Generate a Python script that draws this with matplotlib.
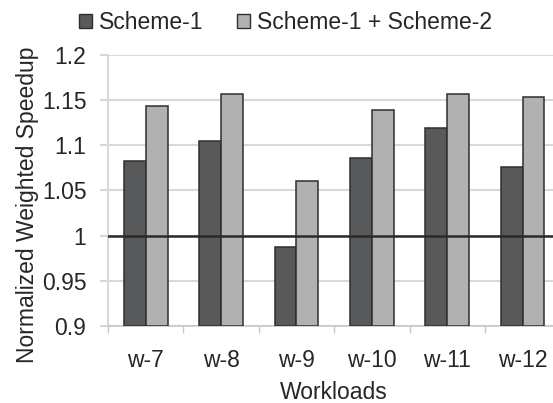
import matplotlib
matplotlib.use("Agg")
import matplotlib.pyplot as plt
import numpy as np
from matplotlib.patches import Patch

workloads = ["w-7", "w-8", "w-9", "w-10", "w-11", "w-12"]
scheme1 = [1.083, 1.105, 0.988, 1.086, 1.119, 1.076]
scheme12 = [1.143, 1.157, 1.060, 1.139, 1.157, 1.153]
series_names = ["Scheme-1", "Scheme-1 + Scheme-2"]
yticks = [0.9, 0.95, 1.0, 1.05, 1.1, 1.15, 1.2]
ytick_labels = ["0.9", "0.95", "1", "1.05", "1.1", "1.15", "1.2"]

plt.rcParams['font.family'] = ['Liberation Sans', 'DejaVu Sans']
FS = 16.5
TXT = '#262626'
DARK = '#58595b'
LIGHT = '#b1b1b1'
EDGE = '#2e2e2e'
GRID = '#d9d9d9'

fig = plt.figure(figsize=(5.53, 4.03), dpi=100)
W, H = 553, 403
ax = fig.add_axes([108 / W, (H - 326.3) / H, 452.3 / W, 271.6 / H])

x = np.arange(len(workloads))
bw = 0.29
ax.bar(x - bw / 2, np.array(scheme1) - 0.9, bw, bottom=0.9, color=DARK,
       edgecolor=EDGE, linewidth=1.1, zorder=3)
ax.bar(x + bw / 2, np.array(scheme12) - 0.9, bw, bottom=0.9, color=LIGHT,
       edgecolor=EDGE, linewidth=1.1, zorder=3)

ax.axhline(1.0, color='#2a2a2a', linewidth=1.8, zorder=4)

ax.set_xlim(-0.5, len(workloads) - 0.5)
ax.set_ylim(0.9, 1.2)
ax.set_yticks(yticks)
ax.set_yticklabels(ytick_labels)
ax.yaxis.grid(True, color=GRID, linewidth=1.5, zorder=0)
ax.set_axisbelow(True)

ax.set_xticks(x)
ax.set_xticklabels(workloads)
ax.set_xticks(np.arange(len(workloads) + 1) - 0.5, minor=True)
ax.tick_params(axis='x', which='major', length=0, pad=16.5, labelsize=FS, labelcolor=TXT)
ax.tick_params(axis='x', which='minor', length=5, width=1.0, color='#c8c8c8', direction='out')
ax.tick_params(axis='y', which='major', length=6, width=1.5, color=GRID, pad=9.5,
               labelsize=FS, labelcolor=TXT)

for s in ['top', 'right']:
    ax.spines[s].set_visible(False)
ax.spines['left'].set_color(GRID)
ax.spines['left'].set_linewidth(1.5)
ax.spines['bottom'].set_color('#c8c8c8')
ax.spines['bottom'].set_linewidth(1.2)

ax.set_xlabel("Workloads", fontsize=FS, color=TXT, labelpad=6.5)
ax.set_ylabel("Normalized Weighted Speedup", fontsize=FS, color=TXT)
ax.yaxis.set_label_coords(-0.1525, 0.447)

handles = [Patch(facecolor=DARK, edgecolor=EDGE, linewidth=1.0),
           Patch(facecolor=LIGHT, edgecolor=EDGE, linewidth=1.0)]
fig.legend(handles, series_names, loc='center left', bbox_to_anchor=(79 / W, 1 - 22.5 / H),
           ncol=2, frameon=False, fontsize=FS, handlelength=0.57, handleheight=0.57,
           handletextpad=0.3, columnspacing=1.48, borderpad=0, borderaxespad=0,
           labelcolor=TXT)

fig.savefig("out.png", dpi=100)
